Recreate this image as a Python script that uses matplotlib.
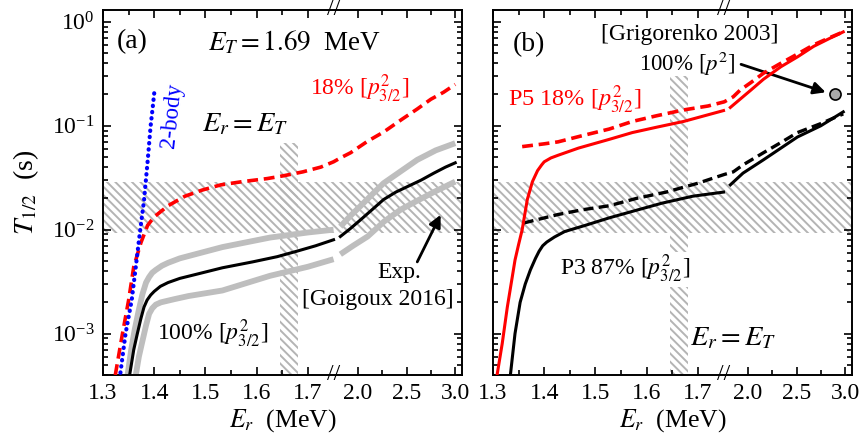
import numpy as np
import matplotlib
matplotlib.use('Agg')
import matplotlib.pyplot as plt
import matplotlib.transforms as mtransforms
from matplotlib.ticker import LogLocator, NullFormatter

nan = np.nan

# x ticks (broken axis: 1.3-1.75 stretched, 1.75-3.0 squeezed)
major_ticks = [1.3, 1.4, 1.5, 1.6, 1.7, 2.0, 2.5, 3.0]
major_labels = ['1.3', '1.4', '1.5', '1.6', '1.7', '2.0', '2.5', '3.0']
minor_ticks = [1.35, 1.45, 1.55, 1.65, 2.25, 2.75]

# hatched bands
exp_band = [0.0093, 0.029]          # Goigoux 2016 half-life
et_band = [1.645, 1.68]             # E_r = E_T

# ---- panel (a) ----
a_2body_x = [1.334, 1.344, 1.356, 1.364, 1.372, 1.380, 1.387, 1.393, 1.397, 1.401]
a_2body_y = [4.2e-4, 1.0e-3, 2.1e-3, 4.4e-3, 9.4e-3, 0.019, 0.045, 0.10, 0.15, 0.23]

a_18_x = [1.324, 1.338, 1.350, 1.360, 1.374, 1.387, 1.400, 1.427, 1.46, 1.493, 1.53, 1.572,
          1.62, 1.652, 1.69, 1.725, 1.75, 1.82, 1.925, 2.10, 2.264, 2.45, 2.61, 2.75, 2.88, 3.0]
a_18_y = [4e-4, 1e-3, 2.1e-3, 4.4e-3, 7.5e-3, 0.011, 0.0133, 0.017, 0.021, 0.024, 0.027, 0.029,
          0.031, 0.033, 0.036, 0.040, 0.045, 0.049, 0.055, 0.071, 0.087, 0.115, 0.145, 0.18, 0.21, 0.25]

a_100_x = [1.352, 1.360, 1.367, 1.374, 1.380, 1.386, 1.393, 1.400, 1.412, 1.427, 1.45, 1.48, 1.533,
           1.592, 1.64, 1.678, 1.715, 1.75, nan, 1.82, 1.92, 2.03, 2.15, 2.264, 2.39, 2.51, 2.65,
           2.78, 2.90, 3.0]
a_100_y = [4e-4, 7e-4, 1.0e-3, 1.4e-3, 1.8e-3, 2.1e-3, 2.35e-3, 2.55e-3, 2.85e-3, 3.1e-3, 3.4e-3,
           3.7e-3, 4.3e-3, 4.9e-3, 5.5e-3, 6.2e-3, 7.0e-3, 8.0e-3, nan, 8.6e-3, 0.0102, 0.0125,
           0.0157, 0.0195, 0.023, 0.026, 0.030, 0.035, 0.040, 0.044]

a_hi_x = [1.348, 1.355, 1.362, 1.370, 1.377, 1.384, 1.390, 1.396, 1.403, 1.415, 1.427, 1.45, 1.48,
          1.533, 1.626, 1.70, 1.75, nan, 1.82, 1.92, 2.03, 2.15, 2.264, 2.45, 2.61, 2.80, 3.0]
a_hi_y = [4e-4, 7e-4, 1.1e-3, 1.7e-3, 2.4e-3, 3.1e-3, 3.5e-3, 3.85e-3, 4.1e-3, 4.5e-3, 4.8e-3,
          5.3e-3, 5.8e-3, 6.8e-3, 8.4e-3, 9.4e-3, 1.0e-2, nan, 0.0107, 0.0135, 0.017, 0.022, 0.028,
          0.037, 0.047, 0.058, 0.068]

a_lo_x = [1.364, 1.370, 1.377, 1.384, 1.390, 1.396, 1.403, 1.413, 1.44, 1.467, 1.533, 1.626, 1.70,
          1.75, nan, 1.82, 1.95, 2.10, 2.27, 2.44, 2.61, 2.78, 3.0]
a_lo_y = [4e-4, 6e-4, 8.5e-4, 1.2e-3, 1.55e-3, 1.75e-3, 1.9e-3, 2.0e-3, 2.15e-3, 2.3e-3, 2.6e-3,
          3.6e-3, 4.4e-3, 5.2e-3, nan, 5.8e-3, 7.0e-3, 8.6e-3, 0.012, 0.0156, 0.019, 0.023, 0.029]

# ---- panel (b) ----
b_p5_x = [1.308, 1.318, 1.328, 1.338, 1.343, 1.350, 1.357, 1.367, 1.377, 1.387, 1.395, 1.40, 1.413,
          1.427, 1.467, 1.527, 1.572, 1.62, 1.672, 1.75, nan, 1.82, 1.92, 2.03, 2.16, 2.34, 2.51,
          2.675, 2.85, 2.98]
b_p5_y = [4e-4, 8e-4, 1.8e-3, 3.6e-3, 5.1e-3, 7.2e-3, 0.010, 0.0195, 0.029, 0.037, 0.042, 0.045,
          0.049, 0.052, 0.061, 0.074, 0.086, 0.097, 0.11, 0.14, nan, 0.15, 0.18, 0.22, 0.28, 0.37,
          0.46, 0.58, 0.70, 0.80]

b_p5d_x = [1.357, 1.40, 1.427, 1.473, 1.527, 1.572, 1.62, 1.672, 1.72, 1.758, 1.85, 1.92, 2.03,
           2.16, 2.34, 2.51, 2.675, 2.85, 2.98]
b_p5d_y = [0.063, 0.067, 0.070, 0.080, 0.093, 0.11, 0.125, 0.142, 0.155, 0.17, 0.19, 0.22, 0.26,
           0.32, 0.40, 0.49, 0.60, 0.71, 0.80]

b_p3_x = [1.334, 1.343, 1.353, 1.363, 1.373, 1.383, 1.390, 1.397, 1.405, 1.42, 1.44, 1.48, 1.527,
          1.572, 1.63, 1.69, 1.75, nan, 1.82, 1.95, 2.16, 2.34, 2.51, 2.75, 2.98]
b_p3_y = [4e-4, 1.0e-3, 2.0e-3, 3.0e-3, 4.1e-3, 5.3e-3, 6.2e-3, 7.0e-3, 7.6e-3, 8.5e-3, 9.6e-3,
          0.011, 0.013, 0.015, 0.018, 0.021, 0.023, nan, 0.027, 0.035, 0.047, 0.061, 0.078, 0.10,
          0.136]

b_p3d_x = [1.36, 1.427, 1.473, 1.527, 1.58, 1.638, 1.70, 1.758, 1.85, 1.95, 2.16, 2.34, 2.51,
           2.75, 2.98]
b_p3d_y = [0.0116, 0.014, 0.0155, 0.017, 0.020, 0.023, 0.028, 0.034, 0.036, 0.042, 0.055, 0.069,
           0.086, 0.105, 0.13]

grig_x = [2.90]
grig_y = [0.20]

BREAK = 1.75
SQUEEZE = 0.19


def fwd(x):
    x = np.asarray(x, dtype=float)
    return np.where(x <= BREAK, x, BREAK + (x - BREAK) * SQUEEZE)


def inv(x):
    x = np.asarray(x, dtype=float)
    return np.where(x <= BREAK, x, BREAK + (x - BREAK) / SQUEEZE)


RED = '#ff0000'
GREY = '#bebebe'
HATCH = '#b4b4b4'
DASH = (0, (3.0, 1.6))


def setup_axes(ax, ylabels=True):
    ax.set_xscale('function', functions=(fwd, inv))
    ax.set_yscale('log')
    ax.set_xlim(1.3, 3.07)
    ax.set_ylim(4e-4, 1.3)
    ax.set_xticks(major_ticks, labels=major_labels)
    ax.set_xticks(minor_ticks, minor=True)
    ax.yaxis.set_major_locator(LogLocator(base=10, numticks=10))
    ax.yaxis.set_minor_locator(LogLocator(base=10, subs=np.arange(2, 10), numticks=10))
    ax.yaxis.set_minor_formatter(NullFormatter())
    ax.tick_params(which='both', direction='in', top=True, right=True, width=1.2,
                   labelsize=17, pad=6, labelleft=ylabels)
    ax.tick_params(which='major', length=6)
    ax.tick_params(which='minor', length=3.5)
    for s in ax.spines.values():
        s.set_linewidth(1.4)
    ax.set_xlabel(r'$E_r$  (MeV)', fontsize=18.5, labelpad=2)

    # hatched bands
    ax.axhspan(exp_band[0], exp_band[1], facecolor='none', edgecolor=HATCH,
               hatch='\\\\\\\\', linewidth=0, zorder=0)

    # axis break marks
    trans = mtransforms.blended_transform_factory(ax.transData, ax.transAxes)
    for yy in (0.0, 1.0):
        ax.text(BREAK, yy, '//', transform=trans, ha='center', va='center',
                fontsize=17, zorder=10, clip_on=False)


def draw_panel_a(ax):
    setup_axes(ax)
    ax.fill_between(et_band, 1e-4, 0.069, facecolor='none', edgecolor=HATCH,
                    hatch='\\\\\\\\', linewidth=0, zorder=0)

    ax.plot(a_hi_x, a_hi_y, color=GREY, lw=4.2, solid_capstyle='butt', zorder=2)
    ax.plot(a_lo_x, a_lo_y, color=GREY, lw=4.2, solid_capstyle='butt', zorder=2)
    ax.plot(a_100_x, a_100_y, color='black', lw=2.2, zorder=3)
    ax.plot(a_18_x, a_18_y, color=RED, lw=2.6, linestyle=DASH, zorder=4)
    ax.plot(a_2body_x, a_2body_y, color='#0000ff', lw=3.0, linestyle=(0, (0.1, 1.4)),
            dash_capstyle='round', zorder=5)

    ax.set_ylabel(r'$T_{1/2}$  (s)', fontsize=20, labelpad=8)

    t = ax.transAxes
    ax.text(0.039, 0.912, '(a)', transform=t, fontsize=20, va='center')
    ax.text(0.293, 0.912, r'$E_T = 1.69$  MeV', transform=t, fontsize=19.5, va='center')
    ax.text(0.192, 0.712, '2-body', transform=t, fontsize=16.5, color='#0000ff',
            rotation=84, ha='center', va='center')
    ax.text(0.275, 0.685, r'$E_r = E_T$', transform=t, fontsize=20.5, va='center')
    ax.text(0.577, 0.784, r'18% [$p^2_{3/2}$]', transform=t, fontsize=17, color=RED,
            va='center')
    ax.text(0.150, 0.112, r'100% [$p^2_{3/2}$]', transform=t, fontsize=17, va='center')
    ax.text(0.825, 0.282, 'Exp.', transform=t, fontsize=17, ha='center', va='center')
    ax.text(0.765, 0.208, '[Goigoux 2016]', transform=t, fontsize=17, ha='center',
            va='center')
    ax.annotate('', xy=(2.85, 0.0139), xytext=(2.61, 0.0049),
                arrowprops=dict(arrowstyle='-|>', color='black', lw=2.0,
                                mutation_scale=18, shrinkA=0, shrinkB=0))


def draw_panel_b(ax):
    setup_axes(ax, ylabels=False)
    ax.fill_between(et_band, 1e-4, 0.30, facecolor='none', edgecolor=HATCH,
                    hatch='\\\\\\\\', linewidth=0, zorder=0)

    ax.plot(b_p3_x, b_p3_y, color='black', lw=2.2, zorder=3)
    ax.plot(b_p3d_x, b_p3d_y, color='black', lw=2.4, linestyle=DASH, zorder=3)
    ax.plot(b_p5_x, b_p5_y, color=RED, lw=2.2, zorder=4)
    ax.plot(b_p5d_x, b_p5d_y, color=RED, lw=2.6, linestyle=DASH, zorder=4)
    ax.plot(grig_x, grig_y, 'o', ms=8, mfc='#aaaaaa', mec='black', mew=1.2, zorder=6)

    t = ax.transAxes
    ax.text(0.056, 0.904, '(b)', transform=t, fontsize=20, va='center')
    ax.text(0.549, 0.932, '[Grigorenko 2003]', transform=t, fontsize=17, ha='center',
            va='center')
    ax.text(0.541, 0.852, r'100% [$p^2$]', transform=t, fontsize=16.5, ha='center',
            va='center')
    ax.annotate('', xy=(2.80, 0.21), xytext=(1.93, 0.39),
                arrowprops=dict(arrowstyle='-|>', color='black', lw=2.0,
                                mutation_scale=18, shrinkA=0, shrinkB=0))
    ax.text(0.042, 0.753, r'P5 18% [$p^2_{3/2}$]', transform=t, fontsize=17.5, color=RED,
            va='center')
    ax.text(0.187, 0.29, r'P3 87% [$p^2_{3/2}$]', transform=t, fontsize=17, va='center',
            zorder=7, bbox=dict(facecolor='white', edgecolor='none', pad=1))
    ax.text(0.549, 0.101, r'$E_r = E_T$', transform=t, fontsize=20.5, va='center')


def main():
    plt.rcParams['font.family'] = 'serif'
    plt.rcParams['font.serif'] = ['Liberation Serif', 'DejaVu Serif']
    plt.rcParams['mathtext.fontset'] = 'stix'
    plt.rcParams['hatch.linewidth'] = 1.4
    plt.rcParams['hatch.color'] = HATCH

    fig = plt.figure(figsize=(8.62, 4.48), dpi=100)
    ax_a = fig.add_axes([0.1195, 0.163, 0.4165, 0.8147])
    ax_b = fig.add_axes([0.5719, 0.163, 0.4165, 0.8147])

    draw_panel_a(ax_a)
    draw_panel_b(ax_b)

    fig.savefig('out.png', dpi=100)


if __name__ == "__main__":
    main()
